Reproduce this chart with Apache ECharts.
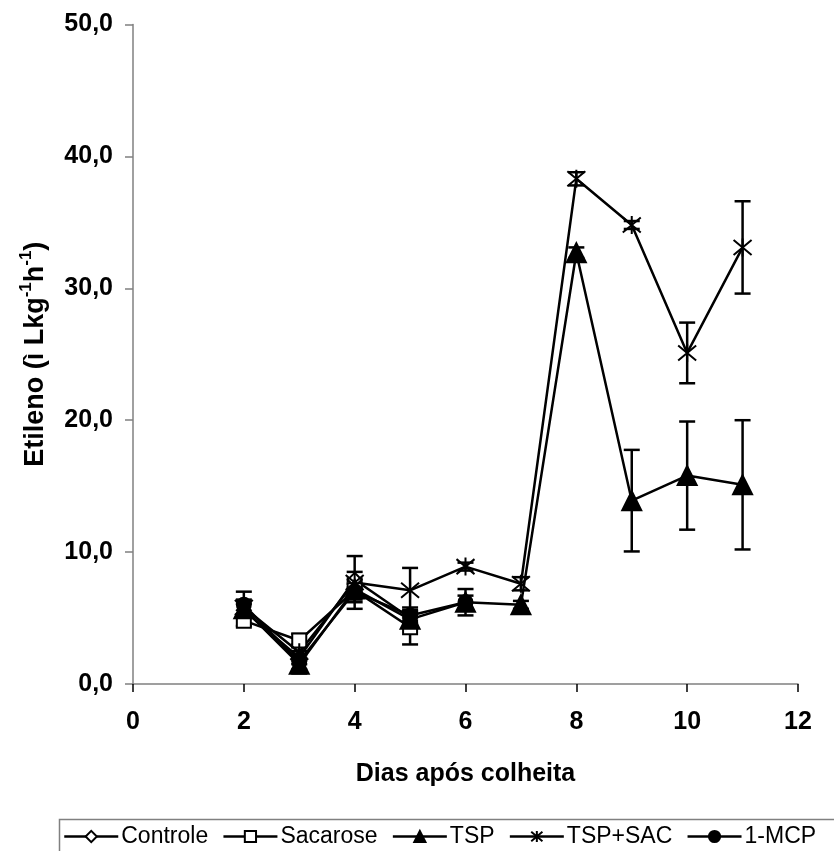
<!DOCTYPE html>
<html>
<head>
<meta charset="utf-8">
<script src="https://cdn.jsdelivr.net/npm/echarts@6/dist/echarts.min.js"></script>
<style>
html,body{margin:0;padding:0;background:#fff;}
#chart{width:834px;height:851px;}
</style>
</head>
<body>
<div id="chart"></div>
<script>
// ---- data ----
const days = [2, 3, 4, 5, 6, 7, 8, 9, 10, 11];
const controle    = [5.6, 2.0, 7.9, 5.0];
const controleErr = [0.5, 0.5, 0.6, 0.5];
const sacarose    = [4.8, 3.3, 7.1, 4.3];
const sacaroseErr = [0.4, 0.5, 0.9, 1.3];
const tsp         = [5.7, 1.5, 7.2, 4.9, 6.2, 6.0, 32.7, 13.9, 15.8, 15.1];
const tspErr      = [0.6, 0.7, 0.6, 0.6, 0.5, 0.3, 0.4, 3.85, 4.1, 4.9];
const tspSac      = [5.8, 2.4, 7.7, 7.1, 8.9, 7.6, 38.3, 34.8, 25.1, 33.1];
const tspSacErr   = [0.6, 0.6, 2.0, 1.7, 0.3, 0.5, 0.5, 0.3, 2.3, 3.5];
const mcp         = [6.0, 1.7, 7.0, 5.2, 6.2];
const mcpErr      = [1.0, 0.6, 0.6, 0.6, 1.0];
const seriesNames = ['Controle', 'Sacarose', 'TSP', 'TSP+SAC', '1-MCP'];
const yTickLabels = ['0,0', '10,0', '20,0', '30,0', '40,0', '50,0'];
const xTickLabels = ['0', '2', '4', '6', '8', '10', '12'];

// ---- helpers ----
const FONT = 'Liberation Sans, Arial, sans-serif';
function pairs(vals) { return vals.map((v, i) => [days[i], v]); }
function errData(vals, errs) { return vals.map((v, i) => [days[i], v, errs[i]]); }

const ASTERISK = 'path://M0,0L10,10M10,0L0,10M5,-1L5,11';

function lineSeries(name, vals, symbol, size, fill) {
  return {
    name: name, type: 'line', data: pairs(vals),
    symbol: symbol, symbolSize: size, showSymbol: true,
    lineStyle: { color: '#000', width: 2.5 },
    itemStyle: { color: fill, borderColor: '#000', borderWidth: 2 },
    z: 3, animation: false, emphasis: { disabled: true }
  };
}
function errSeries(name, vals, errs) {
  return {
    name: name + ' err', type: 'custom', data: errData(vals, errs),
    z: 2, animation: false, silent: true,
    renderItem: function (params, api) {
      const x = api.value(0), y = api.value(1), e = api.value(2);
      const top = api.coord([x, y + e]);
      const bot = api.coord([x, y - e]);
      const hw = 8;
      const st = { stroke: '#000', lineWidth: 2.5 };
      return { type: 'group', children: [
        { type: 'line', shape: { x1: top[0], y1: top[1], x2: bot[0], y2: bot[1] }, style: st },
        { type: 'line', shape: { x1: top[0] - hw, y1: top[1], x2: top[0] + hw, y2: top[1] }, style: st },
        { type: 'line', shape: { x1: bot[0] - hw, y1: bot[1], x2: bot[0] + hw, y2: bot[1] }, style: st }
      ]};
    }
  };
}

const chart = echarts.init(document.getElementById('chart'), null, { renderer: 'canvas' });
chart.setOption({
  backgroundColor: '#fff',
  animation: false,
  grid: { left: 133, right: 36, top: 24.5, bottom: 167, containLabel: false },
  graphic: [{
    type: 'rect', left: 57, top: 817,
    shape: { width: 900, height: 80 },
    style: { fill: 'none', stroke: '#808080', lineWidth: 1.5 }, silent: true
  }],
  xAxis: {
    type: 'value', min: 0, max: 12, interval: 2,
    name: 'Dias após colheita', nameLocation: 'middle', nameGap: 78,
    nameTextStyle: { fontFamily: FONT, fontWeight: 'bold', fontSize: 25, color: '#000' },
    axisLine: { show: true, onZero: false, lineStyle: { color: '#808080', width: 1.5 } },
    axisTick: { show: true, length: 8, lineStyle: { color: '#000', width: 1.5 } },
    axisLabel: { margin: 26, fontFamily: FONT, fontWeight: 'bold', fontSize: 25, color: '#000',
      formatter: function (v) { return xTickLabels[Math.round(v / 2)]; } },
    splitLine: { show: false }
  },
  yAxis: {
    type: 'value', min: 0, max: 50, interval: 10,
    name: '{a|Etileno (ì Lkg}{s|-1}{a|h}{s|-1}{a|)}', nameLocation: 'middle', nameGap: 84, nameRotate: 90,
    nameTextStyle: {
      rich: {
        a: { fontFamily: FONT, fontWeight: 'bold', fontSize: 27, color: '#000', lineHeight: 31, verticalAlign: 'bottom' },
        s: { fontFamily: FONT, fontWeight: 'bold', fontSize: 17, color: '#000', lineHeight: 31, verticalAlign: 'top' }
      }
    },
    axisLine: { show: true, lineStyle: { color: '#808080', width: 1.5 } },
    axisTick: { show: true, length: 8, lineStyle: { color: '#808080', width: 1.5 } },
    axisLabel: { margin: 20, fontFamily: FONT, fontWeight: 'bold', fontSize: 25, color: '#000',
      formatter: function (v) { return yTickLabels[Math.round(v / 10)]; } },
    splitLine: { show: false }
  },
  legend: {
    data: seriesNames, orient: 'horizontal', left: 63, top: 825,
    itemWidth: 54, itemHeight: 14, itemGap: 14,
    padding: 0,
    lineStyle: { width: 2.5, color: '#000' },
    textStyle: { fontFamily: FONT, fontSize: 23, color: '#000', padding: [0, 0, 0, -2] },
    selectedMode: false
  },
  series: [
    errSeries('Controle', controle, controleErr),
    errSeries('Sacarose', sacarose, sacaroseErr),
    errSeries('TSP', tsp, tspErr),
    errSeries('TSP+SAC', tspSac, tspSacErr),
    errSeries('1-MCP', mcp, mcpErr),
    lineSeries('Controle', controle, 'diamond', 14, '#fff'),
    lineSeries('Sacarose', sacarose, 'rect', 14, '#fff'),
    lineSeries('TSP', tsp, 'triangle', 19, '#000'),
    lineSeries('TSP+SAC', tspSac, ASTERISK, 18, 'none'),
    lineSeries('1-MCP', mcp, 'circle', 14, '#000')
  ]
});
</script>
</body>
</html>
